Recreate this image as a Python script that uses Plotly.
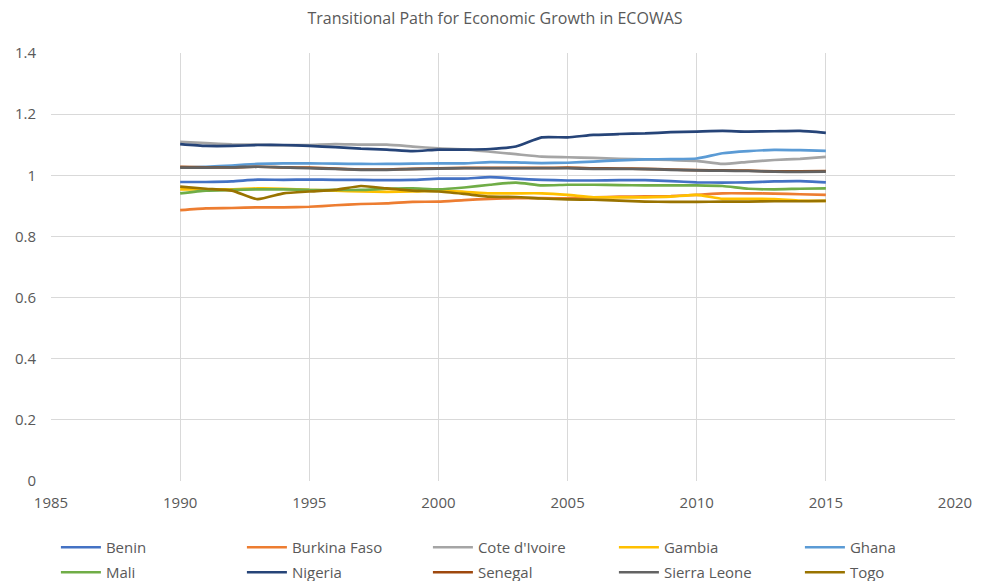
import plotly.graph_objects as go

years = list(range(1990, 2016))

benin = [0.978, 0.978, 0.980, 0.986, 0.985, 0.986, 0.985, 0.985, 0.984, 0.985, 0.989, 0.989, 0.994,
         0.989, 0.985, 0.983, 0.983, 0.984, 0.984, 0.981, 0.977, 0.976, 0.977, 0.980, 0.981, 0.977]
burkina_faso = [0.886, 0.892, 0.893, 0.895, 0.895, 0.897, 0.902, 0.906, 0.908, 0.913, 0.914, 0.919, 0.923,
                0.925, 0.925, 0.925, 0.928, 0.930, 0.931, 0.932, 0.936, 0.941, 0.941, 0.940, 0.938, 0.936]
cote_divoire = [1.109, 1.105, 1.101, 1.100, 1.098, 1.099, 1.102, 1.100, 1.100, 1.094, 1.088, 1.085, 1.077,
                1.069, 1.061, 1.059, 1.057, 1.054, 1.052, 1.050, 1.047, 1.037, 1.044, 1.050, 1.054, 1.060]
gambia = [0.954, 0.954, 0.954, 0.957, 0.956, 0.952, 0.950, 0.947, 0.946, 0.947, 0.950, 0.946, 0.941,
          0.941, 0.941, 0.936, 0.928, 0.928, 0.928, 0.930, 0.936, 0.923, 0.923, 0.922, 0.917, 0.916]
ghana = [1.025, 1.028, 1.032, 1.037, 1.039, 1.039, 1.038, 1.037, 1.037, 1.038, 1.039, 1.039, 1.043,
         1.042, 1.040, 1.041, 1.045, 1.049, 1.052, 1.053, 1.055, 1.072, 1.079, 1.083, 1.082, 1.080]
mali = [0.941, 0.950, 0.952, 0.954, 0.954, 0.952, 0.952, 0.952, 0.956, 0.957, 0.954, 0.960, 0.969,
        0.976, 0.967, 0.969, 0.969, 0.968, 0.967, 0.967, 0.967, 0.965, 0.956, 0.954, 0.956, 0.957]
nigeria = [1.102, 1.096, 1.096, 1.099, 1.099, 1.096, 1.092, 1.087, 1.084, 1.079, 1.084, 1.084, 1.086,
           1.094, 1.124, 1.124, 1.132, 1.135, 1.137, 1.141, 1.143, 1.145, 1.143, 1.144, 1.145, 1.139]
senegal = [1.028, 1.026, 1.026, 1.028, 1.026, 1.025, 1.022, 1.019, 1.019, 1.021, 1.023, 1.024, 1.024,
           1.024, 1.024, 1.025, 1.023, 1.022, 1.021, 1.019, 1.017, 1.016, 1.015, 1.013, 1.013, 1.014]
sierra_leone = [1.025, 1.025, 1.026, 1.028, 1.026, 1.023, 1.021, 1.018, 1.018, 1.020, 1.022, 1.023, 1.023,
                1.023, 1.023, 1.023, 1.021, 1.021, 1.020, 1.018, 1.016, 1.015, 1.014, 1.012, 1.011, 1.012]
togo = [0.963, 0.956, 0.950, 0.922, 0.941, 0.947, 0.952, 0.965, 0.957, 0.950, 0.947, 0.939, 0.930,
        0.929, 0.924, 0.921, 0.920, 0.917, 0.914, 0.913, 0.913, 0.914, 0.914, 0.915, 0.915, 0.916]

series = [
    ("Benin", benin, "#4472C4"),
    ("Burkina Faso", burkina_faso, "#ED7D31"),
    ("Cote d'Ivoire", cote_divoire, "#A5A5A5"),
    ("Gambia", gambia, "#FFC000"),
    ("Ghana", ghana, "#5B9BD5"),
    ("Mali", mali, "#70AD47"),
    ("Nigeria", nigeria, "#264478"),
    ("Senegal", senegal, "#9E480E"),
    ("Sierra Leone", sierra_leone, "#636363"),
    ("Togo", togo, "#997300"),
]

font_family = "Open Sans, Noto Sans, sans-serif"
text_color = "#595959"

fig = go.Figure()
for i, (name, vals, color) in enumerate(series):
    fig.add_trace(go.Scatter(
        x=years, y=vals, name=name, mode="lines",
        line=dict(color=color, width=2.7, shape="spline", smoothing=0.5),
        legend="legend" if i < 5 else "legend2",
    ))

leg_common = dict(orientation="h", x=-0.0001, xanchor="left", yanchor="top",
                  entrywidth=126, entrywidthmode="pixels", indentation=5,
                  font=dict(size=15, color=text_color), itemwidth=40,
                  bgcolor="rgba(0,0,0,0)")

# page body adds an 8px offset; figure sized to fit the 981x581 window
fig.update_layout(
    width=973, height=573,
    paper_bgcolor="white", plot_bgcolor="white",
    margin=dict(l=43, r=26, t=45, b=100, autoexpand=False),
    font=dict(family=font_family, size=15, color=text_color),
    title=dict(text="Transitional Path for Economic Growth in ECOWAS",
               x=0.5005, xref="container", xanchor="center",
               y=1 - 10 / 573, yref="container", yanchor="middle",
               font=dict(size=16, color=text_color)),
    showlegend=True,
    legend=dict(y=-0.1168, **leg_common),
    legend2=dict(y=-0.1752, **leg_common),
)
fig.update_xaxes(range=[1985, 2020], dtick=5, tick0=1985, showgrid=True, gridcolor="#d9d9d9",
                 gridwidth=1, zeroline=False, showline=False, ticks="", automargin=False,
                 ticklabelstandoff=11,
                 tickfont=dict(size=15, color=text_color))
fig.update_yaxes(range=[0, 1.4], dtick=0.2, tick0=0, showgrid=True, gridcolor="#d9d9d9",
                 gridwidth=1, zeroline=False, showline=False, ticks="", automargin=False,
                 ticklabelstandoff=14,
                 tickfont=dict(size=15, color=text_color))

fig.write_html("out.html")
